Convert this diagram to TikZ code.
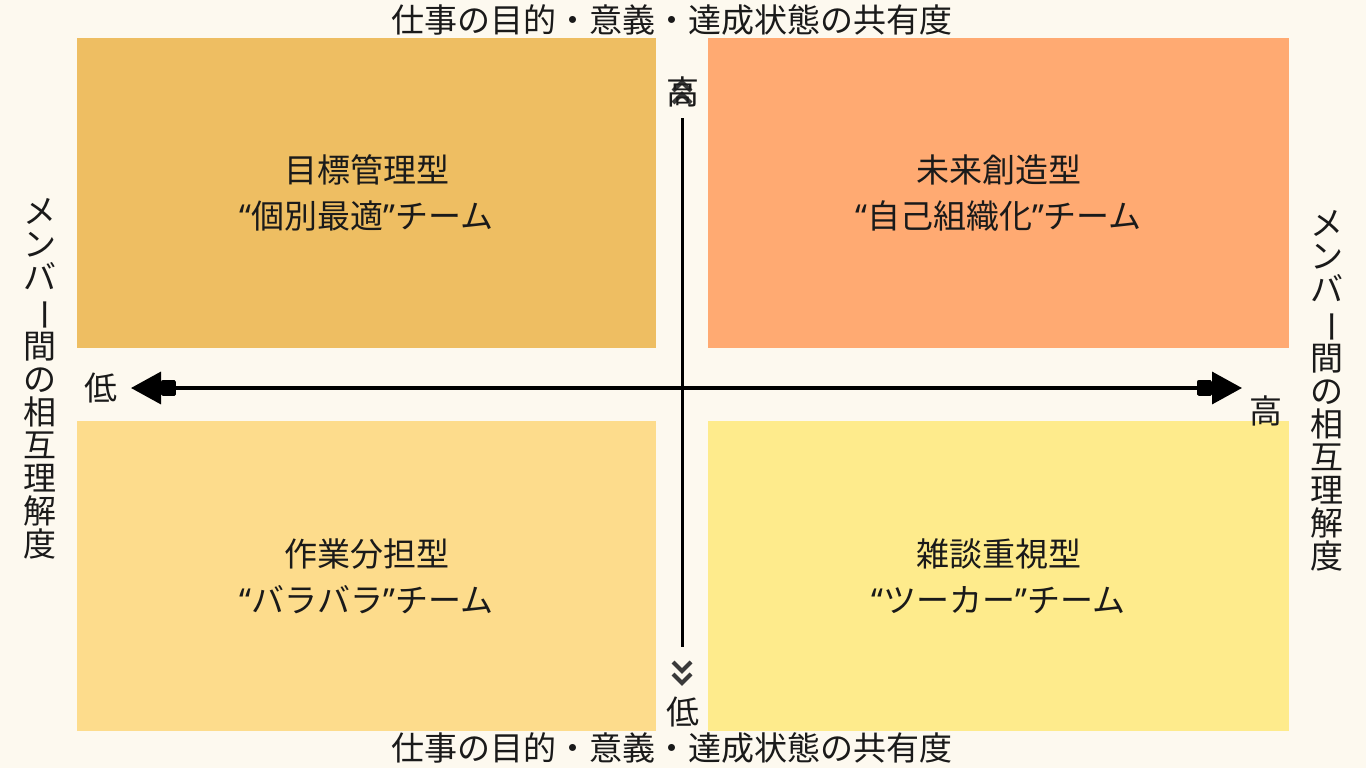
\documentclass[tikz,border=0pt]{standalone}
\usepackage{fontspec}
\usepackage{graphicx}
\setmainfont{Noto Sans CJK JP}
\newfontfamily\qf{Noto Sans}
\usetikzlibrary{arrows.meta}
\definecolor{bgc}{HTML}{FDF9EF}
\definecolor{tlc}{HTML}{EEBE62}
\definecolor{trc}{HTML}{FFAA72}
\definecolor{blc}{HTML}{FDDC8C}
\definecolor{brc}{HTML}{FEEB8C}
\definecolor{txt}{HTML}{1A1A1A}
\definecolor{chevc}{HTML}{3A3A3A}
\begin{document}
\begin{tikzpicture}[x=1pt,y=-1pt,
  quad/.style={minimum height=310pt, inner sep=0pt, align=center,
    font=\fontsize{33}{46}\selectfont, text=txt},
  lab/.style={font=\fontsize{33}{33}\selectfont, text=txt, inner sep=0pt, align=center},
  hax/.style={line width=3.5pt, draw=black,
    {Triangle[length=30pt,width=32pt]Square[length=15pt,width=16pt,round]}-{Square[length=15pt,width=16pt,round]Triangle[length=30pt,width=32pt]}},
  vax/.style={line width=3pt, draw=black},
  chev/.style={line width=4pt, draw=chevc, miter limit=10}
]
\useasboundingbox[fill=bgc] (0,0) rectangle (1366,768);

\node[quad, fill=tlc, minimum width=579pt] (tl) at (366.5,193) {目標管理型\\{\qf“}個別最適{\qf”}チーム};
\node[quad, fill=trc, minimum width=581pt] (tr) at (998.5,193) {未来創造型\\{\qf“}自己組織化{\qf”}チーム};
\node[quad, fill=blc, minimum width=579pt] (bl) at (366.5,576) {作業分担型\\{\qf“}バラバラ{\qf”}チーム};
\node[quad, fill=brc, minimum width=581pt] (br) at (998.5,576) {雑談重視型\\{\qf“}ツーカー{\qf”}チーム};

\coordinate (hl) at (131,388);
\coordinate (hr) at (1242,388);
\coordinate (vt) at (682,118);
\coordinate (vb) at (682,647);
\draw[hax] (hl) -- (hr);
\draw[vax] (vt) -- (vb);
% chevrons at the ends of the vertical axis
\draw[chev] (vb) ++(-9,15) -- ++(9,9) -- ++(9,-9);
\draw[chev] (vb) ++(-9,27) -- ++(9,9) -- ++(9,-9);
\draw[chev] (vt) ++(-9,-15) -- ++(9,-9) -- ++(9,9);
\draw[chev] (vt) ++(-9,-27) -- ++(9,-9) -- ++(9,9);

\node[lab] (ttop) at (672,20) {仕事の目的・意義・達成状態の共有度};
\node[lab] (tbot) at (672,748) {仕事の目的・意義・達成状態の共有度};
\node[lab] (hi1) at (683,92) {高};
\node[lab] (lo1) at (683,712) {低};
\node[lab] (lo2) at (101,388) {低};
\node[lab] (hi2) at (1266,411) {高};

\node[lab, anchor=north] (vl) at (40,198) {メ\\ン\\バ\\\rotatebox[origin=c]{-90}{ー}\\間\\の\\相\\互\\理\\解\\度};
\node[lab, anchor=north] (vr) at (1327,210) {メ\\ン\\バ\\\rotatebox[origin=c]{-90}{ー}\\間\\の\\相\\互\\理\\解\\度};
\end{tikzpicture}
\end{document}
